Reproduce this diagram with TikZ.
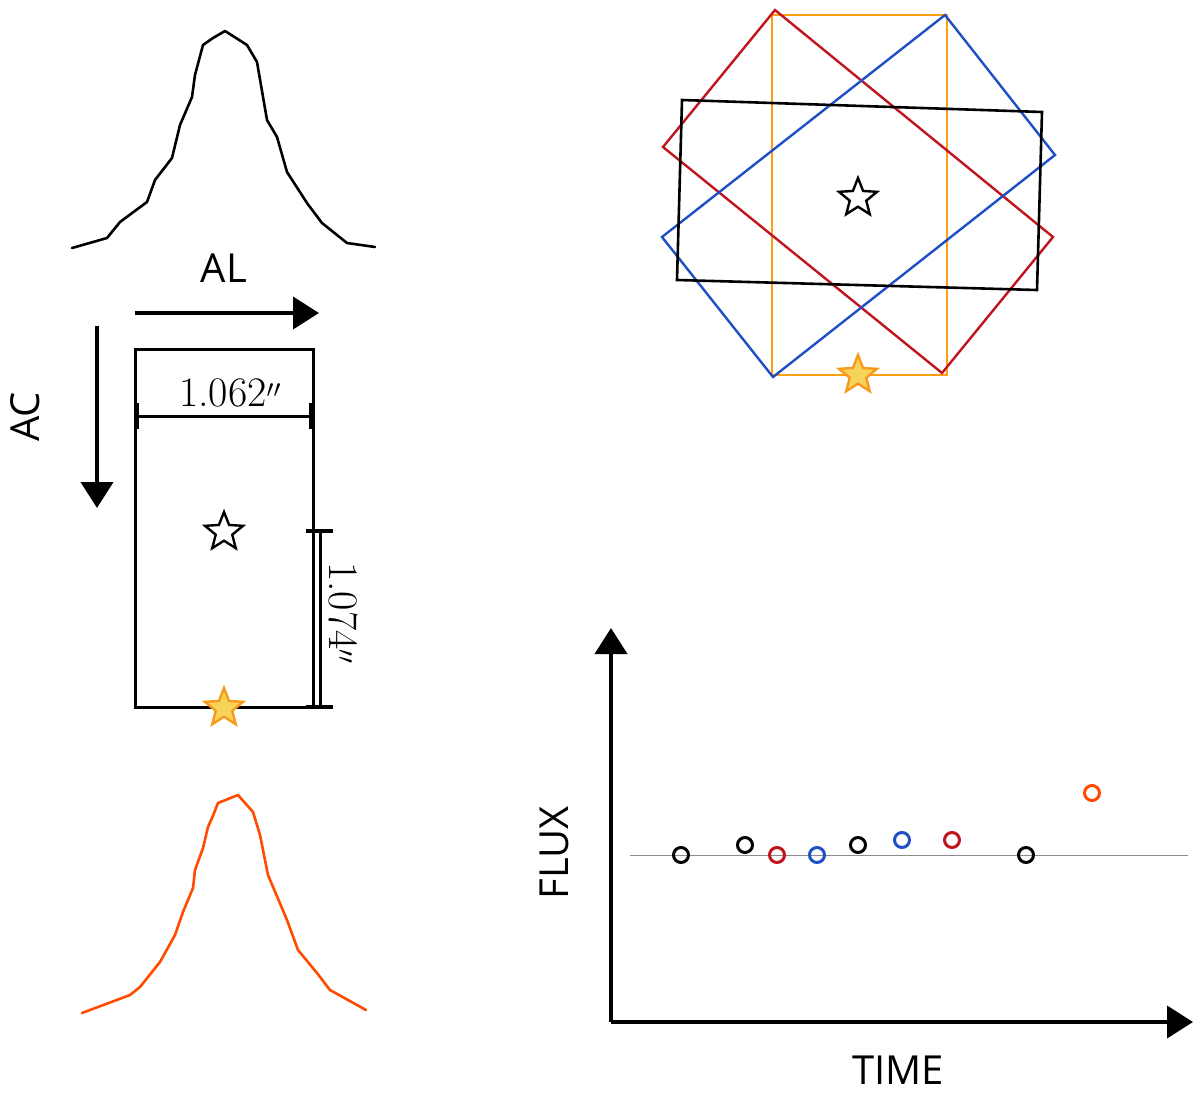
\documentclass[tikz,border=0pt]{standalone}
\usepackage{fontspec}
\newfontfamily\labfont{Open Sans}
\usetikzlibrary{shapes.geometric,arrows.meta}
\definecolor{cred}{HTML}{C0141E}
\definecolor{cblue}{HTML}{1E4FC4}
\definecolor{corange}{HTML}{FF9E10}
\definecolor{cflame}{HTML}{FF4A00}
\definecolor{cstarfill}{HTML}{F6D35A}
\definecolor{cstarline}{HTML}{F79A1E}
\tikzset{
  lbl/.style={font=\labfont\fontsize{40}{46}\selectfont, inner sep=0pt},
  dimtxt/.style={font=\fontsize{42}{46}\selectfont, inner sep=0pt},
  bigarrow/.style={line width=4pt, -{Triangle[width=32pt,length=26pt]}},
  profile/.style={line width=2.6pt, line join=round, line cap=round},
  frame/.style={line width=2.4pt, line join=miter},
  dimline/.style={line width=3pt},
  starblk/.style={star, star points=5, star point ratio=2.3, minimum size=40pt, inner sep=0pt, draw=black, fill=white, line width=2.4pt},
  starorg/.style={star, star points=5, star point ratio=2.3, minimum size=40pt, inner sep=0pt, draw=cstarline, fill=cstarfill, line width=2.4pt},
  datapt/.style={circle, minimum size=15pt, inner sep=0pt, line width=3pt, draw=#1, fill=none},
}
\begin{document}
\begin{tikzpicture}[x=1pt,y=-1pt]
\useasboundingbox (0,0) rectangle (1200,1093);

% ---------- top profile (black) ----------
\draw[profile, black] (72,248) -- (107,238) -- (120,222) -- (147,202) -- (155,180) -- (172,158) -- (180,125) -- (192,97) -- (195,75) -- (203,45) -- (213,38) -- (225,31) -- (247,45) -- (257,62) -- (267,120) -- (277,137) -- (287,172) -- (307,203) -- (322,223) -- (347,243) -- (375,247);

% ---------- AL / AC arrows ----------
\node[lbl] (al) at (224,268) {AL};
\coordinate (alS) at (135,313);
\coordinate (alE) at (319,313);
\draw[bigarrow] (alS) -- (alE);

\node[lbl, rotate=90] (ac) at (25,417) {AC};
\coordinate (acS) at (97,326);
\coordinate (acE) at (97,508);
\draw[bigarrow] (acS) -- (acE);

% ---------- pixel frame ----------
\draw[frame, line width=3pt] (135,349) rectangle (313,707);

% horizontal dimension
\coordinate (hd1) at (137,416);
\coordinate (hd2) at (311,416);
\draw[dimline] (hd1) -- (hd2);
\draw[line width=4pt] (137,403) -- (137,429);
\draw[line width=4pt] (311,403) -- (311,429);
\node[dimtxt] (w) at (230,393) {1.062$''$};

% vertical dimension
\coordinate (vd1) at (320,531);
\coordinate (vd2) at (320,707);
\draw[dimline] (vd1) -- (vd2);
\draw[line width=3.5pt] (306,531) -- (333,531);
\draw[line width=3.5pt] (306,707) -- (333,707);
\node[dimtxt, rotate=-90] (h) at (343,613) {1.074$''$};

\node[starblk] (s1) at (224,532) {};
\node[starorg] (s2) at (224,708) {};

% ---------- bottom profile (orange-red) ----------
\draw[profile, cflame] (82,1013) -- (130,995) -- (140,987) -- (160,962) -- (175,935) -- (183,912) -- (193,888) -- (195,870) -- (203,848) -- (208,827) -- (212,818) -- (218,803) -- (238,795) -- (253,812) -- (260,835) -- (268,875) -- (287,920) -- (298,950) -- (317,973) -- (330,990) -- (366,1010);

% ---------- overlapping frames ----------
\draw[frame, corange] (772,15) rectangle (947,375);
\draw[frame, cred] (775,10) -- (1053,237) -- (942,373) -- (663,147) -- cycle;
\draw[frame, cblue] (945,15) -- (1055,155) -- (773,377) -- (662,237) -- cycle;
\draw[frame, black, line width=2.6pt] (682,100) -- (1042,112) -- (1037,290) -- (677,280) -- cycle;
\node[starblk] (s3) at (858,198) {};
\node[starorg] (s4) at (858,375) {};

% ---------- light curve ----------
\coordinate (origin) at (611,1022);
\coordinate (ytop) at (611,628);
\coordinate (xend) at (1193,1022);
\draw[bigarrow] (origin) -- (ytop);
\draw[bigarrow] (origin) -- (xend);
\coordinate (ref1) at (630,855);
\coordinate (ref2) at (1188,855);
\draw[black!45, line width=1pt] (ref1) -- (ref2);

\node[lbl, rotate=90] (flux) at (554,853) {FLUX};
\node[lbl] (time) at (898,1070) {TIME};

\node[datapt=black]   (p1) at (681,855) {};
\node[datapt=black]   (p2) at (745,845) {};
\node[datapt=cred]    (p3) at (777,855) {};
\node[datapt=cblue]   (p4) at (817,855) {};
\node[datapt=black]   (p5) at (858,845) {};
\node[datapt=cblue]   (p6) at (902,840) {};
\node[datapt=cred]    (p7) at (952,840) {};
\node[datapt=black]   (p8) at (1026,855) {};
\node[datapt=cflame]  (p9) at (1092,793) {};
\end{tikzpicture}
\end{document}
